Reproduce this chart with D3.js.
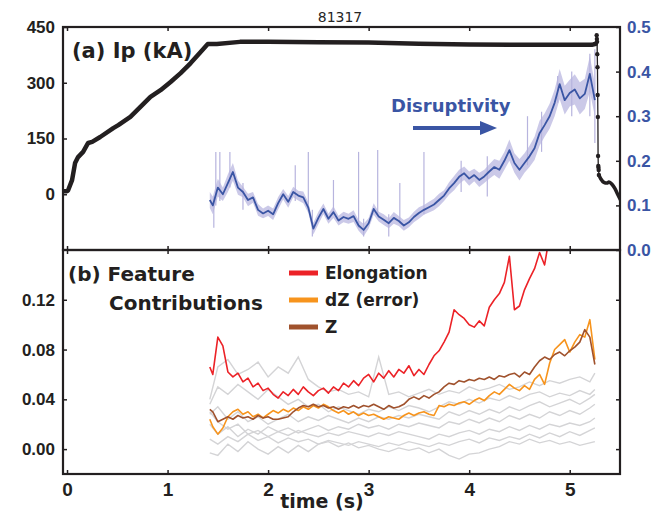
<!DOCTYPE html>
<html>
<head>
<meta charset="utf-8">
<script src="https://cdn.jsdelivr.net/npm/d3@7"></script>
<style>
body { margin: 0; background: #fff; }
svg { display: block; font-family: "DejaVu Sans", sans-serif; }
.tick text { font-weight: bold; fill: #231f20; }
</style>
</head>
<body>
<svg width="670" height="515"></svg>
<script>
// ---- data ----
// plasma current (kA), left axis of panel (a)
const ipT  = [-0.04, 0.0, 0.01, 0.05, 0.08, 0.11, 0.16, 0.21, 0.25, 0.33, 0.46, 0.51, 0.63, 0.73, 0.83, 0.93, 1.03, 1.13, 1.23, 1.32, 1.40, 1.49, 1.72, 2.0, 2.5, 3.0, 3.5, 4.0, 4.5, 5.0, 5.22, 5.26];
const ipKA = [8, 8, 10, 38, 84, 100, 114, 138, 141, 154, 178, 186, 208, 235, 262, 280, 302, 326, 353, 380, 404, 404, 410, 410, 409, 408, 405, 403, 402, 402, 402, 405];
// current quench samples (drawn as dots)
const quenchT  = [5.26, 5.268, 5.27, 5.272, 5.274, 5.276, 5.278, 5.28, 5.282, 5.284, 5.286, 5.288, 5.29];
const quenchKA = [405, 428, 418, 410, 377, 342, 267, 208, 103, 76, 71, 65, 52];
const postT  = [5.29, 5.31, 5.34, 5.37, 5.39, 5.42, 5.45, 5.48, 5.51];
const postKA = [52, 41, 32, 30, 33, 27, 15, -2, -18];

// common time base for disruptivity and feature contributions
const featT = [1.42, 1.45, 1.50, 1.55, 1.60, 1.65, 1.70, 1.75, 1.80, 1.85, 1.90, 1.95, 2.00, 2.05, 2.10, 2.15, 2.20, 2.25, 2.30, 2.35,
  2.40, 2.45, 2.50, 2.55, 2.60, 2.65, 2.70, 2.75, 2.80, 2.85, 2.90, 2.95, 3.00, 3.05, 3.10, 3.15, 3.20, 3.25, 3.30, 3.35,
  3.40, 3.45, 3.50, 3.55, 3.60, 3.65, 3.70, 3.75, 3.80, 3.85, 3.90, 3.95, 4.00, 4.05, 4.10, 4.15, 4.20, 4.25, 4.30, 4.35,
  4.40, 4.45, 4.50, 4.55, 4.60, 4.65, 4.70, 4.75, 4.80, 4.85, 4.90, 4.95, 5.00, 5.05, 5.10, 5.15, 5.20, 5.25];

// disruptivity (right axis of panel (a)) and its spread
const disrupt = [0.112, 0.100, 0.140, 0.125, 0.150, 0.175, 0.140, 0.130, 0.112, 0.118, 0.090, 0.082, 0.088, 0.080, 0.105, 0.125, 0.108, 0.130, 0.122, 0.118,
  0.095, 0.048, 0.072, 0.092, 0.070, 0.085, 0.066, 0.074, 0.070, 0.076, 0.055, 0.045, 0.060, 0.092, 0.075, 0.068, 0.060, 0.072, 0.065, 0.055,
  0.062, 0.074, 0.083, 0.090, 0.096, 0.102, 0.112, 0.122, 0.138, 0.150, 0.164, 0.172, 0.160, 0.168, 0.157, 0.165, 0.176, 0.186, 0.180, 0.200,
  0.224, 0.195, 0.180, 0.195, 0.210, 0.228, 0.262, 0.280, 0.300, 0.330, 0.372, 0.336, 0.352, 0.360, 0.340, 0.350, 0.395, 0.336];
const disruptSpread = [0.018, 0.02, 0.02, 0.015, 0.02, 0.02, 0.016, 0.012, 0.014, 0.012, 0.013, 0.011, 0.012, 0.013, 0.014, 0.012, 0.013, 0.012, 0.011, 0.013,
  0.012, 0.013, 0.014, 0.012, 0.011, 0.013, 0.011, 0.012, 0.011, 0.013, 0.012, 0.014, 0.012, 0.013, 0.011, 0.012, 0.011, 0.013, 0.011, 0.012,
  0.011, 0.012, 0.013, 0.011, 0.012, 0.013, 0.014, 0.012, 0.014, 0.016, 0.016, 0.015, 0.016, 0.014, 0.016, 0.015, 0.016, 0.018, 0.02, 0.02,
  0.024, 0.022, 0.024, 0.022, 0.024, 0.026, 0.028, 0.026, 0.028, 0.03, 0.034, 0.032, 0.03, 0.034, 0.036, 0.034, 0.04, 0.036];
const spikeT  = [1.46, 1.48, 1.52, 1.62, 1.75, 2.27, 2.40, 2.44, 2.65, 2.90, 2.95, 3.09, 3.20, 3.31, 3.55, 3.92, 4.18, 4.58, 4.72, 4.88, 5.02, 5.20, 5.25];
const spikeLo = [0.05, 0.10, 0.11, 0.14, 0.09, 0.11, 0.09, 0.03, 0.08, 0.05, 0.03, 0.08, 0.03, 0.06, 0.08, 0.13, 0.12, 0.19, 0.22, 0.33, 0.30, 0.30, 0.24];
const spikeHi = [0.12, 0.22, 0.22, 0.22, 0.15, 0.19, 0.22, 0.09, 0.157, 0.22, 0.07, 0.224, 0.08, 0.15, 0.22, 0.20, 0.21, 0.30, 0.31, 0.39, 0.40, 0.44, 0.45];

// feature contributions, panel (b)
const elongation = [0.066, 0.060, 0.090, 0.083, 0.062, 0.058, 0.061, 0.054, 0.057, 0.050, 0.053, 0.047, 0.049, 0.044, 0.041, 0.046, 0.043, 0.048, 0.044, 0.050,
  0.046, 0.043, 0.047, 0.049, 0.045, 0.050, 0.047, 0.053, 0.050, 0.055, 0.051, 0.057, 0.060, 0.054, 0.061, 0.057, 0.063, 0.058, 0.064, 0.061,
  0.067, 0.059, 0.064, 0.060, 0.068, 0.075, 0.079, 0.086, 0.094, 0.112, 0.108, 0.105, 0.100, 0.098, 0.103, 0.099, 0.114, 0.120, 0.125, 0.134,
  0.155, 0.112, 0.115, 0.128, 0.137, 0.145, 0.158, 0.148, 0.172, 0.185, 0.19, 0.20, 0.21, 0.21, 0.22, 0.23, 0.23, 0.24];
const dZerror = [0.024, 0.018, 0.012, 0.017, 0.026, 0.030, 0.032, 0.028, 0.030, 0.026, 0.028, 0.025, 0.028, 0.031, 0.029, 0.032, 0.030, 0.033, 0.031, 0.034,
  0.032, 0.035, 0.033, 0.036, 0.034, 0.031, 0.029, 0.031, 0.028, 0.030, 0.027, 0.029, 0.027, 0.028, 0.026, 0.024, 0.026, 0.025, 0.024, 0.027,
  0.029, 0.027, 0.029, 0.030, 0.028, 0.027, 0.035, 0.034, 0.036, 0.035, 0.037, 0.038, 0.036, 0.039, 0.041, 0.039, 0.043, 0.046, 0.044, 0.048,
  0.052, 0.049, 0.047, 0.051, 0.048, 0.056, 0.060, 0.052, 0.069, 0.080, 0.084, 0.088, 0.078, 0.086, 0.092, 0.090, 0.104, 0.072];
const zPos = [0.032, 0.030, 0.022, 0.024, 0.026, 0.024, 0.027, 0.025, 0.026, 0.024, 0.027, 0.025, 0.026, 0.024, 0.024, 0.025, 0.026, 0.030, 0.033, 0.035,
  0.034, 0.036, 0.034, 0.035, 0.033, 0.034, 0.032, 0.034, 0.033, 0.035, 0.033, 0.035, 0.034, 0.036, 0.034, 0.032, 0.035, 0.033, 0.034, 0.036,
  0.040, 0.042, 0.040, 0.043, 0.041, 0.044, 0.046, 0.050, 0.053, 0.052, 0.055, 0.054, 0.056, 0.055, 0.057, 0.056, 0.058, 0.056, 0.059, 0.058,
  0.060, 0.061, 0.058, 0.062, 0.060, 0.066, 0.071, 0.074, 0.072, 0.076, 0.078, 0.075, 0.079, 0.082, 0.086, 0.096, 0.090, 0.068];

// the other (grey) features on a coarser time base
const greyT = [1.42, 1.5, 1.6, 1.7, 1.8, 1.9, 2.0, 2.1, 2.2, 2.3, 2.4, 2.5, 2.6, 2.7, 2.8, 2.9, 3.0, 3.1, 3.2, 3.3,
  3.4, 3.5, 3.6, 3.7, 3.8, 3.9, 4.0, 4.1, 4.2, 4.3, 4.4, 4.5, 4.6, 4.7, 4.8, 4.9, 5.0, 5.1, 5.2, 5.25];
const greyFeatures = [
  [0.040, 0.066, 0.072, 0.060, 0.064, 0.070, 0.058, 0.066, 0.061, 0.074, 0.056, 0.050, 0.046, 0.048, 0.044, 0.046, 0.042, 0.074, 0.044, 0.046,
   0.042, 0.045, 0.048, 0.044, 0.047, 0.045, 0.050, 0.047, 0.049, 0.052, 0.048, 0.050, 0.054, 0.051, 0.055, 0.053, 0.056, 0.058, 0.054, 0.061],
  [0.036, 0.050, 0.044, 0.052, 0.046, 0.040, 0.048, 0.042, 0.036, 0.040, 0.034, 0.036, 0.030, 0.034, 0.031, 0.028, 0.032, 0.030, 0.034, 0.031,
   0.035, 0.033, 0.030, 0.034, 0.038, 0.036, 0.040, 0.037, 0.041, 0.039, 0.043, 0.040, 0.044, 0.046, 0.042, 0.045, 0.043, 0.047, 0.044, 0.048],
  [0.028, 0.034, 0.024, 0.030, 0.022, 0.026, 0.020, 0.024, 0.028, 0.022, 0.026, 0.023, 0.027, 0.024, 0.021, 0.025, 0.022, 0.026, 0.024, 0.027,
   0.025, 0.028, 0.026, 0.024, 0.030, 0.027, 0.031, 0.028, 0.032, 0.029, 0.034, 0.031, 0.035, 0.038, 0.034, 0.037, 0.040, 0.036, 0.041, 0.044],
  [0.020, 0.012, 0.018, 0.010, 0.016, 0.012, 0.018, 0.014, 0.017, 0.013, 0.016, 0.019, 0.015, 0.018, 0.016, 0.020, 0.017, 0.019, 0.016, 0.020,
   0.018, 0.021, 0.019, 0.017, 0.022, 0.020, 0.024, 0.021, 0.025, 0.022, 0.027, 0.024, 0.028, 0.025, 0.030, 0.027, 0.031, 0.028, 0.033, 0.036],
  [0.030, 0.022, 0.016, 0.020, 0.012, 0.015, 0.010, 0.014, 0.011, 0.015, 0.012, 0.010, 0.013, 0.011, 0.014, 0.012, 0.010, 0.013, 0.011, 0.014,
   0.012, 0.010, 0.008, 0.012, 0.010, 0.013, 0.015, 0.012, 0.016, 0.014, 0.018, 0.015, 0.019, 0.016, 0.020, 0.018, 0.021, 0.019, 0.022, 0.025],
  [0.008, 0.004, 0.010, 0.006, 0.012, 0.007, 0.010, 0.005, 0.009, 0.006, 0.008, 0.004, 0.007, 0.005, 0.003, 0.006, 0.004, 0.002, 0.005, 0.003,
   0.006, 0.004, 0.002, 0.005, 0.003, 0.006, 0.008, 0.005, 0.009, 0.007, 0.010, 0.008, 0.012, 0.009, 0.013, 0.010, 0.014, 0.011, 0.015, 0.017],
  [-0.003, -0.005, 0.004, -0.002, 0.006, 0.000, -0.004, 0.002, -0.003, 0.003, -0.002, 0.004, 0.006, 0.002, 0.005, 0.001, 0.003, 0.000, -0.002, 0.001,
   -0.001, 0.001, -0.003, 0.000, -0.005, -0.008, -0.004, -0.003, 0.000, 0.002, 0.006, 0.004, 0.008, 0.005, 0.007, 0.004, 0.006, 0.003, 0.005, 0.006]
];

const legendNames = ["Elongation", "dZ (error)", "Z"];
const legendColors = ["#ec2227", "#f7941d", "#a0522d"];

const timeTicks = [0, 1, 2, 3, 4, 5];
const ipTicks = [0, 150, 300, 450];
const disruptTicks = [0, 0.1, 0.2, 0.3, 0.4, 0.5];
const featTicks = [0, 0.04, 0.08, 0.12];

// ---- layout ----
const ink = "#231f20";
const blue = "#3a55a4";
const left = 63, right = 620;
const topA = 27, botA = 250, topB = 250, botB = 474;

const svg = d3.select("svg");

const x = d3.scaleLinear([-0.04, 5.5], [left, right]);
const yIp = d3.scaleLinear([-150, 450], [botA, topA]);
const yDis = d3.scaleLinear([0, 0.5], [botA, topA]);
const yFeat = d3.scaleLinear([-0.02, 0.16], [botB, topB]);

const defs = svg.append("defs");
defs.append("clipPath").attr("id", "clipA")
  .append("rect").attr("x", left).attr("y", topA).attr("width", right - left).attr("height", botA - topA);
defs.append("clipPath").attr("id", "clipB")
  .append("rect").attr("x", left).attr("y", topB).attr("width", right - left).attr("height", botB - topB);

svg.append("text")
  .attr("x", 340).attr("y", 22)
  .attr("text-anchor", "middle")
  .style("font-size", "14px").style("fill", "#262626")
  .text("81317");

// ---- panel (a) ----
const gA = svg.append("g").attr("clip-path", "url(#clipA)");

// disruptivity band + spikes + mean
gA.append("path")
  .datum(disrupt)
  .attr("d", d3.area()
    .x((d, i) => x(featT[i]))
    .y0((d, i) => yDis(d - disruptSpread[i]))
    .y1((d, i) => yDis(d + disruptSpread[i])))
  .attr("fill", "#c2bfe4")
  .attr("opacity", 0.85);

gA.append("g").selectAll("line")
  .data(spikeT)
  .join("line")
  .attr("x1", d => x(d)).attr("x2", d => x(d))
  .attr("y1", (d, i) => yDis(spikeLo[i]))
  .attr("y2", (d, i) => yDis(spikeHi[i]))
  .attr("stroke", "#b7b4de")
  .attr("stroke-width", 1.2);

gA.append("path")
  .datum(disrupt)
  .attr("d", d3.line().x((d, i) => x(featT[i])).y(d => yDis(d)))
  .attr("fill", "none")
  .attr("stroke", blue)
  .attr("stroke-width", 1.8)
  .attr("stroke-linejoin", "round");

// Ip
gA.append("path")
  .datum(ipKA)
  .attr("d", d3.line().x((d, i) => x(ipT[i])).y(d => yIp(d)))
  .attr("fill", "none")
  .attr("stroke", ink)
  .attr("stroke-width", 4.5)
  .attr("stroke-linejoin", "round");

gA.append("path")
  .datum(quenchKA)
  .attr("d", d3.line().x((d, i) => x(quenchT[i])).y(d => yIp(d)))
  .attr("fill", "none")
  .attr("stroke", ink)
  .attr("stroke-width", 1.3);

gA.append("g").selectAll("circle")
  .data(quenchKA)
  .join("circle")
  .attr("cx", (d, i) => x(quenchT[i]))
  .attr("cy", d => yIp(d))
  .attr("r", 2.2)
  .attr("fill", ink);

gA.append("path")
  .datum(postKA)
  .attr("d", d3.line().x((d, i) => x(postT[i])).y(d => yIp(d)).curve(d3.curveMonotoneX))
  .attr("fill", "none")
  .attr("stroke", ink)
  .attr("stroke-width", 3.5);

// ---- panel (b) ----
const gB = svg.append("g").attr("clip-path", "url(#clipB)");

const greyLine = d3.line().x((d, i) => x(greyT[i])).y(d => yFeat(d));
gB.append("g").selectAll("path")
  .data(greyFeatures)
  .join("path")
  .attr("d", greyLine)
  .attr("fill", "none")
  .attr("stroke", "#d4d4d6")
  .attr("stroke-width", 1.4);

const featLine = d3.line().x((d, i) => x(featT[i])).y(d => yFeat(d));
[dZerror, zPos, elongation].forEach((s, k) => {
  gB.append("path")
    .datum(s)
    .attr("d", featLine)
    .attr("fill", "none")
    .attr("stroke", [legendColors[1], legendColors[2], legendColors[0]][k])
    .attr("stroke-width", 1.6)
    .attr("stroke-linejoin", "round");
});

// ---- axes ----
function styleAxis(g) {
  g.select(".domain").remove();
  g.selectAll(".tick line").attr("stroke", ink).attr("stroke-width", 1.5);
}

svg.append("g").attr("transform", `translate(${left},0)`)
  .call(d3.axisLeft(yIp).tickValues(ipTicks).tickSize(-4).tickPadding(8))
  .call(styleAxis)
  .selectAll("text").style("font-size", "17px");

svg.append("g").attr("transform", `translate(${right},0)`)
  .call(d3.axisRight(yDis).tickValues(disruptTicks).tickSize(-4).tickPadding(7).tickFormat(d3.format(".1f")))
  .call(styleAxis)
  .selectAll("text").style("font-size", "17px").style("fill", blue);

svg.append("g").attr("transform", `translate(0,${topA})`)
  .call(d3.axisTop(x).tickValues(timeTicks).tickSize(-4).tickFormat(""))
  .call(styleAxis);
svg.append("g").attr("transform", `translate(0,${botA})`)
  .call(d3.axisBottom(x).tickValues(timeTicks).tickSize(-4).tickFormat(""))
  .call(styleAxis);
svg.append("g").attr("transform", `translate(0,${topB})`)
  .call(d3.axisTop(x).tickValues(timeTicks).tickSize(-4).tickFormat(""))
  .call(styleAxis);

svg.append("g").attr("transform", `translate(${left},0)`)
  .call(d3.axisLeft(yFeat).tickValues(featTicks).tickSize(-4).tickPadding(8).tickFormat(d3.format(".2f")))
  .call(styleAxis)
  .selectAll("text").style("font-size", "17px");

svg.append("g").attr("transform", `translate(${right},0)`)
  .call(d3.axisRight(yFeat).tickValues(featTicks).tickSize(-4).tickFormat(""))
  .call(styleAxis);

svg.append("g").attr("transform", `translate(0,${botB})`)
  .call(d3.axisBottom(x).tickValues(timeTicks).tickSize(-4).tickPadding(9).tickFormat(d3.format("d")))
  .call(styleAxis)
  .selectAll("text").style("font-size", "19px");

// frames
[[topA, botA], [topB, botB]].forEach(([t, b]) => {
  svg.append("rect")
    .attr("x", left).attr("y", t)
    .attr("width", right - left).attr("height", b - t)
    .attr("fill", "none")
    .attr("stroke", ink)
    .attr("stroke-width", 2.2);
});

// ---- annotations ----
const bold = sel => sel.style("font-weight", "bold").style("fill", ink);

svg.append("text").attr("x", 72).attr("y", 58).style("font-size", "21px").call(bold).text("(a) Ip (kA)");
svg.append("text").attr("x", 68).attr("y", 281).style("font-size", "20px").call(bold).text("(b) Feature");
svg.append("text").attr("x", 109).attr("y", 310).style("font-size", "20px").call(bold).text("Contributions");

svg.append("text").attr("x", 322).attr("y", 508)
  .attr("text-anchor", "middle")
  .style("font-size", "19px").call(bold)
  .text("time (s)");

svg.append("text").attr("x", 391).attr("y", 112)
  .style("font-size", "18px").style("font-weight", "bold").style("fill", blue)
  .text("Disruptivity");
svg.append("line")
  .attr("x1", 413).attr("x2", 482).attr("y1", 128).attr("y2", 128)
  .attr("stroke", blue).attr("stroke-width", 4);
svg.append("path")
  .attr("d", "M480,121 L497,128 L480,135 Z")
  .attr("fill", blue);

// legend
const lg = svg.append("g");
legendNames.forEach((name, i) => {
  const cy = 273 + i * 27;
  lg.append("line")
    .attr("x1", 289).attr("x2", 318).attr("y1", cy).attr("y2", cy)
    .attr("stroke", legendColors[i]).attr("stroke-width", 5);
  lg.append("text")
    .attr("x", 325).attr("y", cy + 6)
    .style("font-size", "17px").call(bold)
    .text(name);
});
</script>
</body>
</html>
